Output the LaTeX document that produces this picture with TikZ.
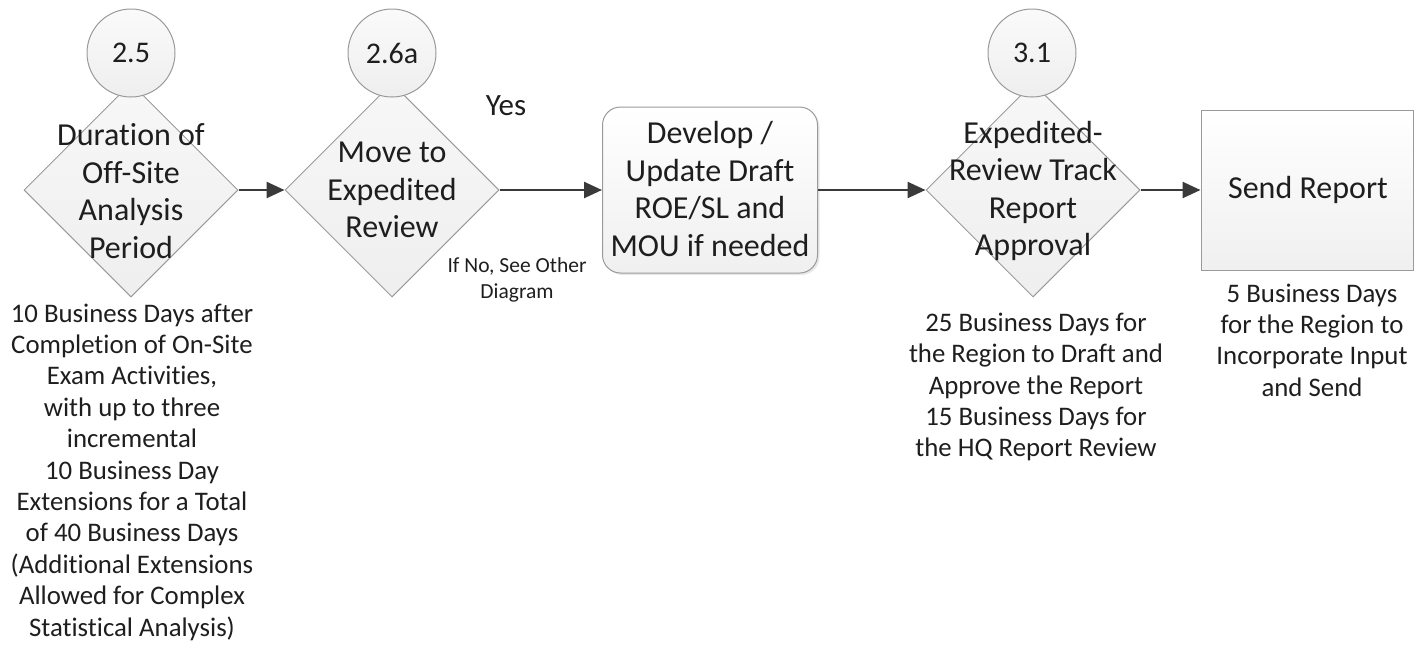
\documentclass[tikz,border=0pt]{standalone}
\usepackage{fontspec}
\setmainfont{Carlito}[Ligatures=NoCommon]
\usetikzlibrary{shapes.geometric,arrows.meta,shadows}

\definecolor{edgegray}{HTML}{9A9A9A}
\definecolor{linegray}{HTML}{3A3A3A}
\definecolor{inkgray}{HTML}{1E1E1E}

\begin{document}
\begin{tikzpicture}[x=1pt,y=-1pt,
  decision/.style={diamond, draw=edgegray, line width=1pt, top color=gray!6,
    bottom color=gray!13, minimum width=214pt, minimum height=214pt, inner sep=0pt},
  refcircle/.style={circle, draw=edgegray, line width=1pt, top color=gray!4,
    bottom color=gray!13, minimum size=88pt, inner sep=0pt,
    font=\fontsize{30}{36}\selectfont, text=inkgray},
  bigtext/.style={align=center, inner sep=0pt, text=inkgray,
    font=\fontsize{32}{37.5}\selectfont},
  notetext/.style={align=center, inner sep=0pt, text=inkgray,
    font=\fontsize{26.8}{31.4}\selectfont},
  smalltext/.style={align=center, inner sep=0pt, text=inkgray,
    font=\fontsize{21.5}{26}\selectfont},
  process/.style={draw=edgegray, line width=1pt, top color=white,
    bottom color=gray!12, inner sep=0pt},
  flow/.style={draw=linegray, line width=2.5pt,
    -{Triangle[length=18pt,width=16pt]}}
]
\path[use as bounding box] (0,0) rectangle (1414,648);

% decision diamonds
\node[decision] (d1) at (131,190) {};
\node[decision] (d2) at (392,190) {};
\node[decision] (d3) at (1033,190) {};

% step numbers above the diamonds
\node[refcircle] (c1) at (131,53) {2.5};
\node[refcircle] (c2) at (392,53) {2.6a};
\node[refcircle] (c3) at (1032,53) {3.1};

% process boxes
\node[process, rounded corners=18pt, minimum width=215pt, minimum height=166pt,
  drop shadow={opacity=0.18, shadow xshift=2pt, shadow yshift=-2pt}]
  (dev) at (710,190) {};
\node[process, minimum width=212pt, minimum height=160pt] (send) at (1307,190) {};

% texts inside the shapes
\node[bigtext] (t1) at (131,191) {Duration of\\Off-Site\\Analysis\\Period};
\node[bigtext] (t2) at (392,190) {Move to\\Expedited\\Review};
\node[bigtext] (t3) at (710,189) {Develop /\\Update Draft\\ROE/SL and\\MOU if needed};
\node[bigtext] (t4) at (1033,191) {Expedited-\\Review Track\\Report\\Approval};
\node[bigtext] (t5) at (1308,190) {Send Report};

% branch labels
\node[bigtext, font=\fontsize{31}{36}\selectfont] (yes) at (506,106) {Yes};
\node[smalltext] (no) at (517,280) {If No, See Other\\Diagram};

% timing notes
\node[notetext] (n1) at (132,472) {10 Business Days after\\Completion of On-Site\\Exam Activities,\\with up to three\\incremental\\10 Business Day\\Extensions for a Total\\of 40 Business Days\\(Additional Extensions\\Allowed for Complex\\Statistical Analysis)};
\node[notetext] (n3) at (1036,387) {25 Business Days for\\the Region to Draft and\\Approve the Report\\15 Business Days for\\the HQ Report Review};
\node[notetext] (n5) at (1312,340) {5 Business Days\\for the Region to\\Incorporate Input\\and Send};

% connectors
\draw[flow] (d1.east) -- (d2.west);
\draw[flow] (d2.east) -- (dev.west);
\draw[flow] (dev.east) -- (d3.west);
\draw[flow] (d3.east) -- (send.west);
\end{tikzpicture}
\end{document}
